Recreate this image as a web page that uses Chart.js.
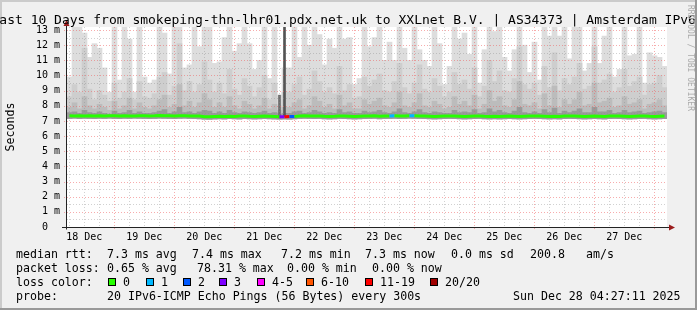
<!DOCTYPE html>
<html lang="en">
<head>
<meta charset="UTF-8">
<title>SmokePing - Last 10 Days</title>
<style>
  html, body { margin: 0; padding: 0; background: #f0f0f0; }
  #chart { display: block; }
</style>
</head>
<body>
<canvas id="chart" width="697" height="310"></canvas>
<script src="https://cdn.jsdelivr.net/npm/chart.js@4.4.0/dist/chart.umd.min.js"></script>
<script>
// time axis: hours since 18 Dec 00:00, one column = 2 h
const startHour = 5.08;
const stepHours = 2;
const dayNoon = [12, 36, 60, 84, 108, 132, 156, 180, 204, 228];
const dayLabels = ['18 Dec', '19 Dec', '20 Dec', '21 Dec', '22 Dec', '23 Dec', '24 Dec', '25 Dec', '26 Dec', '27 Dec'];

// smoke: fastest ping, upper percentiles and slowest ping per column (ms)
const minRtt = [
  7.16, 7.18, 7.15, 7.17, 7.16, 7.15, 7.17, 7.16, 7.18, 7.16,
  7.15, 7.17, 7.16, 7.18, 7.17, 7.16, 7.15, 7.16, 7.18, 7.17,
  7.16, 7.15, 7.17, 7.18, 7.16, 7.15, 7.14, 7.12, 7.11, 7.13,
  7.14, 7.13, 7.15, 7.14, 7.13, 7.15, 7.14, 7.13, 7.14, 7.15,
  7.14, 7.13, 7.12, 7.13, 7.12, 7.14, 7.16, 7.17, 7.16, 7.15,
  7.16, 7.14, 7.13, 7.14, 7.16, 7.15, 7.14, 7.13, 7.14, 7.15,
  7.16, 7.17, 7.14, 7.15, 7.16, 7.17, 7.15, 7.16, 7.18, 7.17,
  7.16, 7.15, 7.14, 7.13, 7.14, 7.15, 7.16, 7.15, 7.14, 7.13,
  7.14, 7.15, 7.16, 7.14, 7.13, 7.14, 7.13, 7.14, 7.15, 7.14,
  7.13, 7.14, 7.15, 7.16, 7.15, 7.14, 7.13, 7.14, 7.13, 7.15,
  7.16, 7.15, 7.14, 7.13, 7.14, 7.15, 7.14, 7.13, 7.15, 7.16,
  7.15, 7.14, 7.13, 7.14, 7.15, 7.16, 7.14, 7.13, 7.14, 7.15
];
const p60 = [
  7.55, 7.6, 7.5, 7.7, 7.55, 7.5, 7.6, 7.5, 7.45, 7.65,
  7.5, 7.55, 7.7, 7.5, 7.6, 7.5, 7.5, 7.55, 7.65, 7.75,
  7.5, 7.6, 7.9, 7.55, 7.6, 7.5, 7.6, 7.7, 7.65, 7.5,
  7.6, 7.5, 7.7, 7.55, 7.5, 7.6, 7.55, 7.5, 7.55, 7.65,
  7.5, 7.55, 7.45, 7.5, 7.5, 7.6, 7.65, 7.5, 7.55, 7.7,
  7.6, 7.5, 7.55, 7.5, 7.75, 7.55, 7.6, 7.5, 7.5, 7.65,
  7.55, 7.6, 7.7, 7.55, 7.5, 7.6, 7.8, 7.55, 7.5, 7.6,
  7.75, 7.55, 7.5, 7.6, 7.55, 7.5, 7.5, 7.7, 7.55, 7.6,
  7.55, 7.75, 7.5, 7.55, 7.8, 7.6, 7.7, 7.55, 7.5, 7.65,
  7.9, 7.55, 7.5, 7.6, 7.5, 7.75, 7.55, 7.85, 7.5, 7.65,
  7.55, 7.65, 7.8, 7.55, 7.55, 7.9, 7.6, 7.6, 7.7, 7.5,
  7.55, 7.7, 7.55, 7.6, 7.65, 7.5, 7.55, 7.6, 7.65, 7.55
];
const p75 = [
  7.9, 8.2, 7.8, 8.6, 8.0, 7.8, 8.1, 7.9, 7.7, 8.3,
  7.8, 8.0, 8.5, 7.8, 8.2, 7.9, 7.8, 8.0, 8.4, 8.7,
  7.9, 8.1, 9.4, 8.0, 8.3, 7.9, 8.2, 8.8, 8.4, 7.9,
  8.2, 7.9, 8.6, 8.0, 7.8, 8.3, 8.1, 7.8, 8.0, 8.5,
  7.8, 8.1, 7.7, 7.9, 7.9, 8.2, 8.4, 7.8, 8.0, 8.6,
  8.3, 7.9, 8.1, 7.8, 8.7, 8.0, 8.2, 7.8, 7.8, 8.4,
  8.1, 8.3, 8.5, 8.0, 7.9, 8.2, 8.9, 8.0, 7.9, 8.2,
  8.8, 8.0, 7.9, 8.3, 8.1, 7.8, 7.9, 8.6, 8.1, 8.3,
  8.0, 8.7, 7.8, 8.1, 9.0, 8.3, 8.6, 8.0, 7.9, 8.4,
  9.6, 8.1, 8.0, 8.2, 7.8, 8.8, 8.0, 9.3, 7.9, 8.4,
  8.1, 8.4, 8.9, 8.0, 8.1, 9.5, 8.2, 8.3, 8.5, 7.9,
  8.0, 8.6, 8.1, 8.2, 8.4, 7.8, 8.1, 8.2, 8.4, 8.0
];
const p90 = [
  8.6, 9.4, 8.9, 11.8, 9.1, 8.4, 9.0, 8.7, 8.3, 9.5,
  8.5, 8.9, 9.8, 8.4, 9.6, 8.6, 8.5, 8.8, 9.9, 10.2,
  8.7, 9.3, 12.1, 9.0, 9.6, 8.9, 9.4, 10.9, 9.7, 8.9,
  9.5, 8.8, 10.4, 9.1, 8.7, 9.8, 9.3, 8.6, 9.2, 10.0,
  8.4, 9.5, 8.0, 8.9, 8.9, 9.4, 9.9, 8.7, 9.1, 10.3,
  9.6, 8.9, 9.2, 8.8, 10.6, 9.0, 9.4, 8.5, 8.6, 9.9,
  9.3, 9.7, 10.1, 9.0, 8.9, 9.6, 10.8, 9.2, 8.8, 9.5,
  10.7, 9.1, 8.9, 9.8, 9.3, 8.6, 8.9, 10.2, 9.4, 9.7,
  9.1, 10.5, 8.6, 9.3, 11.0, 9.6, 10.3, 9.0, 8.9, 9.8,
  11.9, 9.4, 9.1, 9.5, 8.7, 10.6, 9.2, 11.5, 9.0, 9.8,
  9.4, 9.9, 10.8, 9.1, 9.3, 11.9, 9.5, 9.7, 10.1, 8.9,
  9.2, 10.4, 9.3, 9.6, 9.9, 8.7, 9.4, 9.5, 10.0, 9.2
];
const maxRtt = [
  9.9, 13.5, 13.5, 12.8, 11.2, 12.1, 11.8, 10.5, 8.9, 13.5,
  9.7, 13.5, 12.4, 8.9, 13.5, 9.9, 9.5, 9.7, 13.5, 12.8,
  10.1, 13.5, 13.5, 10.5, 10.7, 13.5, 11.9, 13.5, 13.5, 10.8,
  10.9, 12.5, 13.5, 11.6, 12.1, 13.5, 12.1, 10.4, 11.0, 13.5,
  9.8, 13.5, 8.7, 10.5, 10.5, 13.5, 11.2, 13.5, 12.0, 13.5,
  12.7, 10.7, 12.4, 11.8, 13.5, 12.4, 12.5, 9.4, 9.8, 13.5,
  11.9, 12.5, 13.5, 11.0, 12.2, 11.0, 13.5, 11.8, 11.0, 13.5,
  11.7, 11.0, 10.6, 13.5, 12.1, 9.4, 10.6, 13.5, 12.4, 12.8,
  11.4, 13.5, 9.5, 11.7, 13.5, 12.9, 13.5, 11.2, 10.3, 11.7,
  13.5, 12.0, 10.2, 12.2, 9.7, 13.5, 12.6, 13.5, 12.6, 13.5,
  11.1, 13.5, 13.5, 10.3, 10.8, 13.5, 10.8, 12.6, 13.5, 9.9,
  10.4, 13.5, 11.3, 11.4, 13.5, 9.5, 11.5, 11.3, 11.2, 10.6
];
const median = [
  7.34, 7.33, 7.35, 7.33, 7.34, 7.32, 7.34, 7.33, 7.35, 7.34,
  7.33, 7.34, 7.32, 7.33, 7.35, 7.34, 7.33, 7.34, 7.36, 7.35,
  7.34, 7.33, 7.34, 7.35, 7.33, 7.32, 7.33, 7.28, 7.27, 7.30,
  7.31, 7.30, 7.31, 7.30, 7.32, 7.33, 7.31, 7.30, 7.31, 7.32,
  7.31, 7.30, 7.28, 7.27, 7.29, 7.30, 7.32, 7.34, 7.33, 7.32,
  7.33, 7.31, 7.30, 7.31, 7.33, 7.32, 7.31, 7.30, 7.31, 7.32,
  7.33, 7.34, 7.31, 7.32, 7.33, 7.34, 7.32, 7.33, 7.35, 7.34,
  7.33, 7.32, 7.31, 7.30, 7.31, 7.32, 7.33, 7.32, 7.31, 7.30,
  7.31, 7.32, 7.33, 7.31, 7.30, 7.31, 7.30, 7.31, 7.32, 7.31,
  7.30, 7.31, 7.32, 7.33, 7.32, 7.31, 7.30, 7.31, 7.30, 7.32,
  7.33, 7.32, 7.31, 7.30, 7.31, 7.32, 7.31, 7.30, 7.32, 7.33,
  7.32, 7.31, 7.30, 7.31, 7.32, 7.33, 7.31, 7.30, 7.31, 7.32
];
// lost pings out of 20 per column
const lost = [
  0, 0, 0, 0, 0, 0, 0, 0, 0, 0,
  0, 0, 0, 0, 0, 0, 0, 0, 0, 0,
  0, 0, 0, 0, 0, 0, 0, 0, 0, 0,
  0, 0, 0, 0, 0, 0, 0, 0, 0, 0,
  0, 0, 3, 15, 2, 0, 0, 0, 0, 0,
  0, 0, 0, 0, 0, 0, 0, 0, 0, 0,
  0, 0, 0, 0, 1, 0, 0, 0, 1, 0,
  0, 0, 0, 0, 0, 0, 0, 0, 0, 0,
  0, 0, 0, 0, 0, 0, 0, 0, 0, 0,
  0, 0, 0, 0, 0, 0, 0, 0, 0, 0,
  0, 0, 0, 0, 0, 0, 0, 0, 0, 0,
  0, 0, 0, 0, 0, 0, 0, 0, 0, 0
];
// the loss burst on 21 Dec: few replies, spread up past the top
const burstCols = [42, 43];
const burstLow = [7.2, 7.3];
const burstHigh = [8.7, 13.5];

const lossLabels = ['0', '1', '2', '3', '4-5', '6-10', '11-19', '20/20'];
const lossColors = ['#26ff00', '#00b8ff', '#0059ff', '#7e00ff', '#ff00ff', '#ff5500', '#ff0000', '#a00000'];

const title = 'Last 10 Days from smokeping-thn-lhr01.pdx.net.uk to XXLnet B.V. | AS34373 | Amsterdam IPv6';
const legendRows = [
  [['median rtt:', 16], ['7.3 ms avg', 107], ['7.4 ms max', 192], ['7.2 ms min', 281], ['7.3 ms now', 365], ['0.0 ms sd', 451], ['200.8', 530], ['am/s', 586]],
  [['packet loss:', 16], ['0.65 % avg', 107], ['78.31 % max', 197], ['0.00 % min', 287], ['0.00 % now', 372]],
  [['loss color:', 16]],
  [['probe:', 16], ['20 IPv6-ICMP Echo Pings (56 Bytes) every 300s', 107], ['Sun Dec 28 04:27:11 2025', 513]]
];

const MONO = '"DejaVu Sans Mono", "Liberation Mono", monospace';
const MAJOR = 'rgba(240, 90, 90, 0.5)';
const MINOR = 'rgba(140, 140, 140, 0.4)';

function lossColor(n) {
  if (n <= 3) return lossColors[n];
  if (n <= 5) return lossColors[4];
  if (n <= 10) return lossColors[5];
  if (n <= 19) return lossColors[6];
  return lossColors[7];
}

const hours = median.map((_, i) => startHour + stepHours * (i + 0.5));
const span = hi => hi.map((v, i) => ({ x: hours[i], y: [minRtt[i], v] }));

function smoke(label, hi, color) {
  return {
    type: 'bar', label, data: span(hi), backgroundColor: color,
    borderWidth: 0, grouped: false, barPercentage: 1, categoryPercentage: 1
  };
}

function dotted(ctx, x1, y1, x2, y2, color) {
  ctx.strokeStyle = color;
  ctx.beginPath();
  ctx.moveTo(x1, y1);
  ctx.lineTo(x2, y2);
  ctx.stroke();
}

const frame = {
  id: 'frame',
  beforeDraw(chart) {
    const { ctx, chartArea: a, width, height } = chart;
    ctx.save();
    ctx.fillStyle = '#f0f0f0';
    ctx.fillRect(0, 0, width, height);
    ctx.fillStyle = '#cbcbcb';
    ctx.fillRect(0, 0, width, 2);
    ctx.fillRect(0, 0, 2, height);
    ctx.fillStyle = '#999999';
    ctx.fillRect(0, height - 2, width, 2);
    ctx.fillRect(width - 2, 0, 2, height);
    ctx.fillStyle = '#ffffff';
    ctx.fillRect(a.left, a.top, a.right - a.left, a.bottom - a.top);
    ctx.restore();
  }
};

// rrdtool draws its grid over the smoke, under the median line
const grid = {
  id: 'rrdGrid',
  afterDatasetDraw(chart, args) {
    if (args.index !== 1) return;
    const { ctx, chartArea: a, scales: { x, y } } = chart;
    ctx.save();
    ctx.lineWidth = 1;
    ctx.setLineDash([1, 2]);
    for (let v = 0.5; v <= y.max; v += 0.5) {
      const py = Math.round(y.getPixelForValue(v)) + 0.5;
      const major = Number.isInteger(v);
      dotted(ctx, major ? a.left - 3 : a.left, py, a.right, py, major ? MAJOR : MINOR);
    }
    for (let h = Math.ceil(x.min / 6) * 6; h <= x.max; h += 6) {
      const px = Math.round(x.getPixelForValue(h)) + 0.5;
      const major = h % 24 === 0;
      dotted(ctx, px, a.top, px, major ? a.bottom + 3 : a.bottom, major ? MAJOR : MINOR);
    }
    ctx.restore();
  }
};

const decor = {
  id: 'decor',
  afterDraw(chart) {
    const { ctx, chartArea: a, scales: { y } } = chart;
    ctx.save();
    // axes with arrows
    const y0 = Math.round(y.getPixelForValue(0)) + 0.5;
    const x0 = Math.round(a.left) - 0.5;
    ctx.strokeStyle = '#222';
    ctx.lineWidth = 1;
    ctx.beginPath();
    ctx.moveTo(a.left - 5, y0); ctx.lineTo(a.right + 3, y0);
    ctx.moveTo(x0, y0 + 2); ctx.lineTo(x0, a.top - 3);
    ctx.stroke();
    ctx.fillStyle = '#9b1c1c';
    ctx.beginPath();
    ctx.moveTo(a.right + 8, y0); ctx.lineTo(a.right + 2, y0 - 3); ctx.lineTo(a.right + 2, y0 + 3);
    ctx.closePath(); ctx.fill();
    ctx.beginPath();
    ctx.moveTo(x0, a.top - 7); ctx.lineTo(x0 - 3, a.top - 1); ctx.lineTo(x0 + 3, a.top - 1);
    ctx.closePath(); ctx.fill();

    // title
    ctx.fillStyle = '#000';
    ctx.font = '13px ' + MONO;
    ctx.textAlign = 'left';
    ctx.textBaseline = 'alphabetic';
    ctx.fillText(title, -8.5, 23.5);

    // y title
    ctx.save();
    ctx.font = '11.6px ' + MONO;
    ctx.translate(11, (a.top + a.bottom) / 2);
    ctx.rotate(-Math.PI / 2);
    ctx.textAlign = 'center';
    ctx.textBaseline = 'middle';
    ctx.fillText('Seconds', 0, 0);
    ctx.restore();

    // credit
    ctx.save();
    ctx.font = '8px ' + MONO;
    ctx.fillStyle = '#aaaaaa';
    ctx.translate(690, 5);
    ctx.rotate(Math.PI / 2);
    ctx.textAlign = 'left';
    ctx.textBaseline = 'middle';
    ctx.fillText('RRDTOOL / TOBI OETIKER', 0, 0);
    ctx.restore();

    // legend
    ctx.font = '11.6px ' + MONO;
    ctx.textBaseline = 'alphabetic';
    legendRows.forEach((row, r) => {
      row.forEach(([t, lx]) => ctx.fillText(t, lx, 258 + r * 14));
    });
    const boxX = [108, 146, 183, 219, 257, 306, 365, 430];
    lossLabels.forEach((lab, i) => {
      ctx.fillStyle = lossColors[i];
      ctx.fillRect(boxX[i], 278, 8, 8);
      ctx.strokeStyle = '#000';
      ctx.strokeRect(boxX[i] + 0.5, 278.5, 7, 7);
      ctx.fillStyle = '#000';
      ctx.fillText(lab, boxX[i] + 15, 286);
    });
    ctx.restore();
  }
};

new Chart(document.getElementById('chart'), {
  type: 'bar',
  data: {
    datasets: [
      {
        type: 'line', label: 'median rtt',
        data: median.map((v, i) => ({ x: hours[i], y: v })),
        borderColor: lossColors[0], borderWidth: 3, pointRadius: 0, tension: 0,
        segment: { borderColor: c => lossColor(lost[c.p0DataIndex]) }
      },
      {
        type: 'bar', label: 'burst',
        data: burstCols.map((c, k) => ({ x: hours[c], y: [burstLow[k], burstHigh[k]] })),
        backgroundColor: ['#6c6c6c', '#545454'], borderWidth: 0, grouped: false, barThickness: 2
      },
      smoke('p60', p60, '#9a9a9a'),
      smoke('p75', p75, '#bcbcbc'),
      smoke('p90', p90, '#cecece'),
      smoke('max', maxRtt, '#dddddd')
    ]
  },
  options: {
    responsive: false,
    devicePixelRatio: 1,
    animation: false,
    layout: { padding: { top: 27, right: 30, bottom: 63, left: 0 } },
    plugins: { legend: { display: false }, tooltip: { enabled: false } },
    scales: {
      x: {
        type: 'linear', min: startHour, max: startHour + 240, offset: false,
        grid: { display: false, drawTicks: false }, border: { display: false },
        afterBuildTicks: s => { s.ticks = dayNoon.map(v => ({ value: v })); },
        afterFit: s => { s.height = 20; },
        ticks: {
          autoSkip: false, maxRotation: 0, padding: 4, color: '#000',
          font: { family: MONO, size: 10 },
          callback: (v, i) => dayLabels[i]
        }
      },
      y: {
        min: 0, max: 13.2,
        grid: { display: false, drawTicks: false }, border: { display: false },
        afterFit: s => { s.width = 67; },
        ticks: {
          stepSize: 1, includeBounds: false, padding: 7, color: '#000',
          font: { family: MONO, size: 10 },
          callback: v => (v === 0 ? '0  ' : v + ' m')
        }
      }
    }
  },
  plugins: [frame, grid, decor]
});
</script>
</body>
</html>
